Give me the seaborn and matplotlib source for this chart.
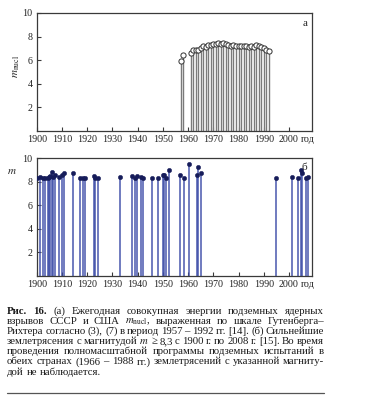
import numpy as np
import pandas as pd
import matplotlib.pyplot as plt
import seaborn as sns
from matplotlib.lines import Line2D

# (а) ежегодная суммарная энергия подземных ядерных взрывов, m_nucl
nucl_years = [1957, 1958, 1961, 1962, 1963, 1964, 1965, 1966, 1967, 1968,
              1969, 1970, 1971, 1972, 1973, 1974, 1975, 1976, 1977, 1978,
              1979, 1980, 1981, 1982, 1983, 1984, 1985, 1986, 1987, 1988,
              1989, 1990, 1991, 1992]
nucl_m = [5.9, 6.4, 6.6, 6.9, 6.9, 6.9, 7.0, 7.2, 7.1, 7.3,
          7.3, 7.4, 7.4, 7.5, 7.4, 7.5, 7.4, 7.3, 7.2, 7.3,
          7.2, 7.2, 7.2, 7.2, 7.2, 7.1, 7.2, 7.1, 7.3, 7.2,
          7.1, 7.0, 6.9, 6.8]

# (б) сильнейшие землетрясения, m >= 8.3
eq_years = [1900.0, 1901.5, 1902.4, 1903.2, 1904.3, 1905.0, 1905.4, 1906.1,
            1906.6, 1907.1, 1908.7, 1910.0, 1911.0, 1914.5, 1917.2, 1918.4,
            1919.0, 1922.6, 1923.3, 1924.3, 1933.0, 1937.8, 1938.9, 1939.7,
            1941.5, 1942.3, 1945.6, 1947.9, 1949.9, 1950.5, 1951.1, 1952.5,
            1956.9, 1958.5, 1960.2, 1963.6, 1964.0, 1965.0, 1994.7, 2001.3,
            2003.6, 2004.8, 2005.2, 2006.7, 2007.6]
eq_m = [8.3, 8.4, 8.3, 8.3, 8.3, 8.4, 8.5, 8.8,
        8.4, 8.6, 8.4, 8.6, 8.7, 8.7, 8.3, 8.3,
        8.3, 8.5, 8.3, 8.3, 8.4, 8.5, 8.3, 8.5,
        8.4, 8.3, 8.3, 8.3, 8.6, 8.6, 8.3, 9.0,
        8.6, 8.3, 9.5, 8.6, 9.2, 8.7, 8.3, 8.4,
        8.3, 9.0, 8.7, 8.3, 8.4]

x_ticks = list(range(1900, 2001, 10))
y_ticks = [2, 4, 6, 8, 10]

caption = [
    "Рис. 16. (а) Ежегодная совокупная энергии подземных ядерных",
    "взрывов СССР и США $m_\\mathrm{nucl}$, выраженная по шкале Гутенберга–",
    "Рихтера согласно (3), (7) в период 1957 – 1992 гг. [14]. (б) Сильнейшие",
    "землетрясения с магнитудой $m$ ≥ 8,3 с 1900 г. по 2008 г. [15]. Во время",
    "проведения полномасштабной программы подземных испытаний в",
    "обеих странах (1966 – 1988 гг.) землетрясений с указанной магниту-",
    "дой не наблюдается.",
]

sns.set_style("ticks")
plt.rcParams["font.family"] = ["Liberation Serif", "DejaVu Serif"]
plt.rcParams["mathtext.fontset"] = "stix"
plt.rcParams["xtick.direction"] = "in"
plt.rcParams["ytick.direction"] = "in"
plt.rcParams["axes.edgecolor"] = "#3a3a3a"
plt.rcParams["axes.linewidth"] = 0.9

W, H = 388, 400
fig = plt.figure(figsize=(W / 100, H / 100), dpi=100)
ax1 = fig.add_axes([36.7 / W, 1 - 131 / H, 275 / W, 118 / H])
ax2 = fig.add_axes([36.7 / W, 1 - 276 / H, 275 / W, 118 / H])

df_n = pd.DataFrame({"year": nucl_years, "m": nucl_m})
df_e = pd.DataFrame({"year": eq_years, "m": eq_m})

ax1.vlines(df_n["year"], 0, df_n["m"], color="#7a7a7a", lw=1.0, zorder=2)
sns.scatterplot(data=df_n, x="year", y="m", ax=ax1, s=14, marker="o",
                facecolor="white", edgecolor="#333333", linewidth=0.7, zorder=3)

ax2.vlines(df_e["year"], 0, df_e["m"], color="#3a4aa6", lw=1.2, alpha=0.85, zorder=2)
sns.scatterplot(data=df_e, x="year", y="m", ax=ax2, s=10, marker="o",
                color="#161c5a", edgecolor="#161c5a", linewidth=0.3, zorder=3)

for ax in (ax1, ax2):
    ax.set_xlim(1900, 2009)
    ax.set_ylim(0, 10)
    ax.set_xticks(x_ticks)
    ax.set_yticks(y_ticks)
    ax.tick_params(labelsize=7.2, length=3, width=0.8, color="#3a3a3a",
                   labelcolor="#222222", pad=3)
    ax.set_xlabel("")
    ax.set_ylabel("")
    for s in ax.spines.values():
        s.set_visible(True)
    # подпись "год" после 2000
    ax.annotate("год", xy=(2004.6, 0), xycoords=("data", "axes fraction"),
                xytext=(0, -3), textcoords="offset points", fontsize=7.2,
                color="#222222", va="top", ha="left", annotation_clip=False)

ax1.text(0.985, 0.91, "а", transform=ax1.transAxes, fontsize=8, ha="right", va="center")
ax2.text(0.985, 0.92, "б", transform=ax2.transAxes, fontsize=8, ha="right", va="center")

fig.text(17 / W, 1 - 66 / H, "$m_\\mathrm{nucl}$", rotation=90, fontsize=8,
         ha="center", va="center")
fig.text(12 / W, 1 - 171 / H, "$m$", fontsize=8, ha="center", va="center")

# подпись к рисунку, выровненная по ширине
fs = 8.4
min_gap = 2.2
x0, x1 = 7.0, 324.0
fig.canvas.draw()
renderer = fig.canvas.get_renderer()

rows = []
for i, line in enumerate(caption):
    words = line.split(" ")
    texts = []
    for j, w in enumerate(words):
        bold = i == 0 and j < 2
        t = fig.text(0, 1 - (313.5 + i * 10.2) / H, w, fontsize=fs,
                     va="baseline", ha="left",
                     fontweight="bold" if bold else "normal", color="#1a1a1a")
        texts.append(t)
    rows.append(texts)

# подбираем кегль так, чтобы самая длинная строка помещалась
scale = 1.0
for texts in rows[:-1]:
    tot = sum(t.get_window_extent(renderer).width for t in texts)
    need = (x1 - x0 - min_gap * (len(texts) - 1)) / tot
    scale = min(scale, need)
fs = fs * scale
for texts in rows:
    for t in texts:
        t.set_fontsize(fs)

t_a = fig.text(0, 0, "a", fontsize=fs)
t_aa = fig.text(0, 0, "a a", fontsize=fs)
sp_w = t_aa.get_window_extent(renderer).width - 2 * t_a.get_window_extent(renderer).width
t_a.remove()
t_aa.remove()

for i, texts in enumerate(rows):
    widths = [t.get_window_extent(renderer).width for t in texts]
    if i < len(rows) - 1:
        gap = (x1 - x0 - sum(widths)) / (len(texts) - 1)
    else:
        gap = sp_w
    x = x0
    for t, w in zip(texts, widths):
        t.set_x(x / W)
        x += w + gap

fig.add_artist(Line2D([x0 / W, x1 / W], [1 - 393 / H, 1 - 393 / H],
                      color="#555555", lw=0.9))

fig.savefig("out.png", dpi=100, facecolor="white")
